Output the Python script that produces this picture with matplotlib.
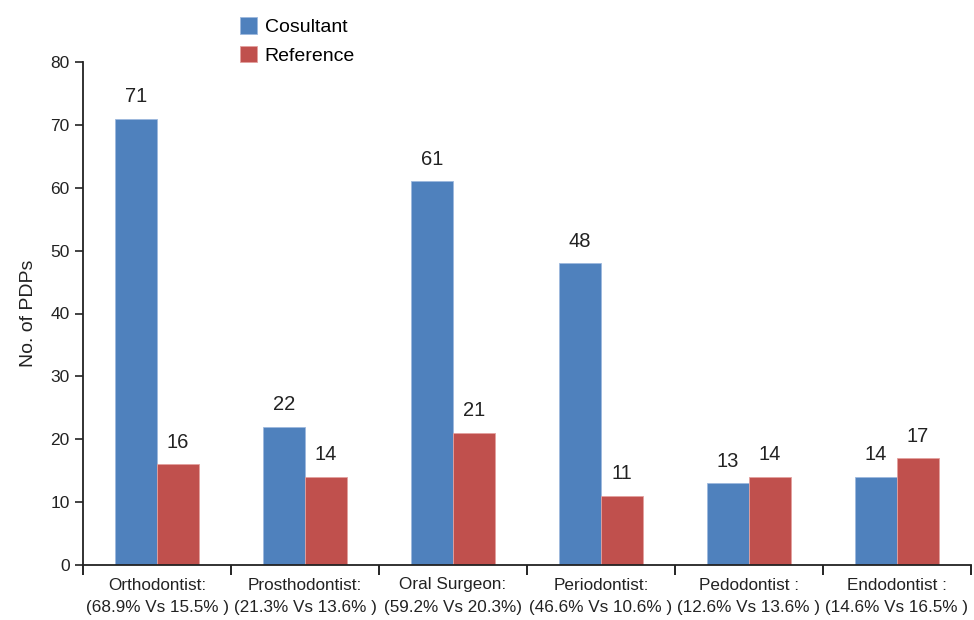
import numpy as np
import matplotlib.pyplot as plt
from matplotlib.ticker import FixedLocator, NullFormatter

plt.rcParams['font.family'] = ['Liberation Sans', 'DejaVu Sans']

# Data
categories = [
    "Orthodontist:\n(68.9% Vs 15.5% )",
    "Prosthodontist:\n(21.3% Vs 13.6% )",
    "Oral Surgeon:\n(59.2% Vs 20.3%)",
    "Periodontist:\n(46.6% Vs 10.6% )",
    "Pedodontist :\n(12.6% Vs 13.6% )",
    "Endodontist :\n(14.6% Vs 16.5% )",
]
consultant = [71, 22, 61, 48, 13, 14]
reference = [16, 14, 21, 11, 14, 17]

blue = '#4F81BD'
red = '#C0504D'

fig = plt.figure(figsize=(9.74, 6.2), dpi=100)
ax = fig.add_axes([83/974, 1 - 565/620, (971 - 83)/974, (565 - 62)/620])

x = np.arange(len(categories))
w = 0.284

b1 = ax.bar(x - w/2, consultant, w, color=blue, edgecolor='#9db9dd', linewidth=0.6, label='Cosultant')
b2 = ax.bar(x + w/2, reference, w, color=red, edgecolor='#e3a19f', linewidth=0.6, label='Reference')

for bars in (b1, b2):
    for r in bars:
        ax.annotate(f"{int(r.get_height())}", (r.get_x() + r.get_width()/2, r.get_height()),
                    xytext=(0, 9), textcoords='offset points', ha='center', va='bottom',
                    fontsize=14.5, color='#222222')

ax.set_xlim(-0.5, len(categories) - 0.5)
ax.set_ylim(0, 80)
ax.set_yticks(range(0, 81, 10))
ax.tick_params(axis='y', labelsize=12.5, length=6, width=1.2, direction='out', colors='#222222')

# category labels in the middle, separator ticks between categories
ax.set_xticks(x)
ax.set_xticklabels(categories, fontsize=12.3, color='#222222', linespacing=1.6)
ax.tick_params(axis='x', which='major', length=0, pad=9)
ax.xaxis.set_minor_locator(FixedLocator(np.arange(-0.5, len(categories), 1)))
ax.xaxis.set_minor_formatter(NullFormatter())
ax.tick_params(axis='x', which='minor', length=7, width=1.2, direction='out')

for s in ['top', 'right']:
    ax.spines[s].set_visible(False)
for s in ['left', 'bottom']:
    ax.spines[s].set_linewidth(1.3)
    ax.spines[s].set_color('#222222')

ax.set_ylabel('No. of PDPs', fontsize=14, color='#222222', labelpad=10)

ax.legend(loc='upper left', bbox_to_anchor=(222/974, 1.0), bbox_transform=fig.transFigure,
          frameon=False, fontsize=14, handlelength=0.9, handleheight=0.9,
          handletextpad=0.4, labelspacing=0.5)

fig.savefig('out.png', dpi=100)
